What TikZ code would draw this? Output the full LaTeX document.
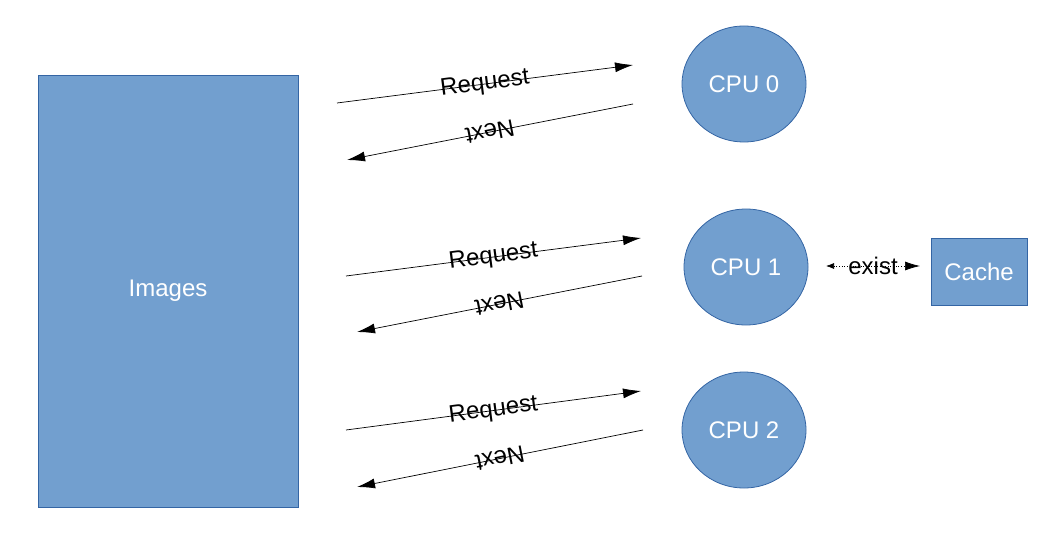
\documentclass[tikz,border=0pt]{standalone}
\usepackage{fontspec}
\setmainfont{Liberation Sans}
\usetikzlibrary{arrows.meta,shapes.geometric}
\definecolor{boxblue}{HTML}{729FCF}
\definecolor{lineblue}{HTML}{3465A4}

\begin{document}
\begin{tikzpicture}[x=0.5pt,y=-0.5pt,font=\fontsize{12}{14}\selectfont,
  box/.style={draw=lineblue,fill=boxblue,text=white,inner sep=0pt,line width=0.4pt},
  cpu/.style={box,ellipse,minimum width=62pt,minimum height=58pt},
  msg/.style={line width=0.35pt,-{Latex[length=9pt,width=5pt]}},
  back/.style={sloped,allow upside down,inner sep=0pt}]
  \useasboundingbox (0,0) rectangle (1058,545);
  \node[box,minimum width=130pt,minimum height=216pt] (img) at (168,291) {Images};
  \node[cpu] (cpu0) at (744,84) {CPU 0};
  \node[cpu] (cpu1) at (746,267) {CPU 1};
  \node[cpu] (cpu2) at (744,430) {CPU 2};
  \node[box,minimum width=48pt,minimum height=33.5pt] (cache) at (979,271.5) {Cache};
  % free ends of the messages
  \coordinate (req0a) at (337,103); \coordinate (req0b) at (633,65);
  \coordinate (nxt0a) at (633,104); \coordinate (nxt0b) at (347,160);
  \coordinate (req1a) at (346,276); \coordinate (req1b) at (641,238);
  \coordinate (nxt1a) at (642,276); \coordinate (nxt1b) at (357,332);
  \coordinate (req2a) at (346,430); \coordinate (req2b) at (641,391);
  \coordinate (nxt2a) at (643,430); \coordinate (nxt2b) at (357,487);
  \coordinate (exa) at (826,266); \coordinate (exb) at (920,266);
  \path[msg]
    (req0a) edge node [back] {Request} (req0b)
    (nxt0a) edge node [back] {Next} (nxt0b)
    (req1a) edge node [back] {Request} (req1b)
    (nxt1a) edge node [back] {Next} (nxt1b)
    (req2a) edge node [back] {Request} (req2b)
    (nxt2a) edge node [back] {Next} (nxt2b);
  \draw[densely dotted,line width=0.35pt,{Latex[length=4pt,width=3pt]}-{Latex[length=7.5pt,width=4.5pt]}]
    (exa) -- node [inner sep=0pt] {exist} (exb);
\end{tikzpicture}
\end{document}
